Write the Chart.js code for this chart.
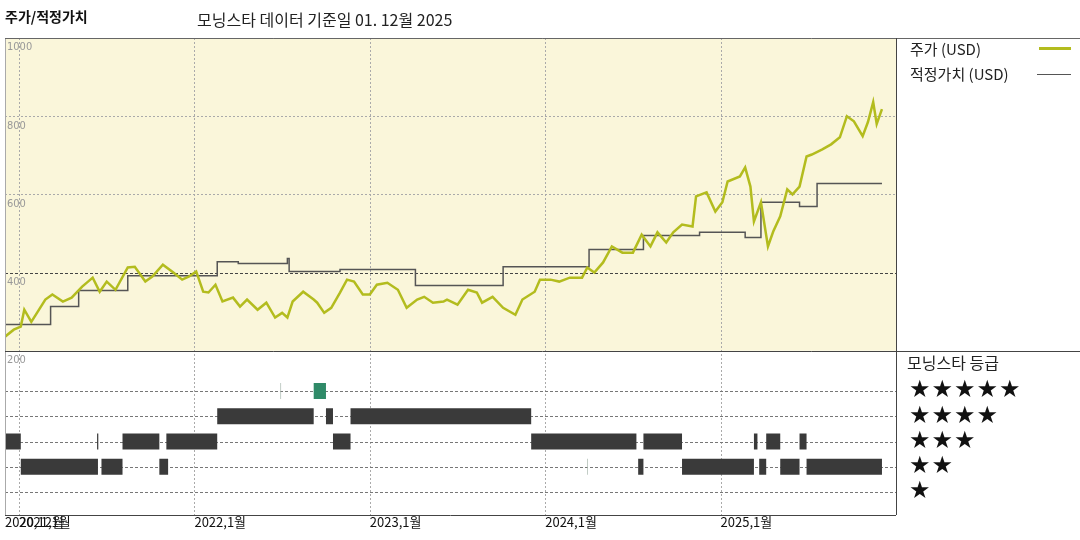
<!DOCTYPE html>
<html>
<head>
<meta charset="utf-8">
<script src="https://cdn.jsdelivr.net/npm/chart.js@4"></script>
<style>
  body { margin: 0; background: #fff; }
  #wrap { width: 1080px; height: 540px; position: relative; }
</style>
</head>
<body>
<div id="wrap"><canvas id="chart" width="1080" height="540"></canvas></div>
<script>
// price (USD), decimal year
var priceYears = [2020.92,2020.97,2021.01,2021.03,2021.07,2021.15,2021.19,2021.25,2021.30,2021.36,2021.42,2021.46,2021.50,2021.55,2021.62,2021.66,2021.72,2021.76,2021.82,2021.88,2021.93,2021.97,2022.01,2022.05,2022.08,2022.12,2022.16,2022.22,2022.26,2022.30,2022.36,2022.41,2022.46,2022.50,2022.53,2022.56,2022.62,2022.68,2022.70,2022.74,2022.78,2022.83,2022.87,2022.91,2022.96,2023.00,2023.04,2023.10,2023.16,2023.21,2023.27,2023.31,2023.36,2023.42,2023.44,2023.50,2023.56,2023.61,2023.64,2023.70,2023.76,2023.83,2023.87,2023.94,2023.97,2024.03,2024.08,2024.14,2024.21,2024.24,2024.28,2024.33,2024.38,2024.44,2024.50,2024.55,2024.60,2024.64,2024.69,2024.73,2024.78,2024.84,2024.86,2024.92,2024.97,2025.01,2025.04,2025.11,2025.14,2025.17,2025.19,2025.23,2025.27,2025.30,2025.34,2025.38,2025.41,2025.45,2025.49,2025.52,2025.58,2025.63,2025.68,2025.72,2025.76,2025.81,2025.84,2025.87,2025.89,2025.92];
var priceValues = [236,254,262,305,274,331,344,326,336,364,387,351,377,356,413,415,377,390,420,400,382,390,403,351,349,369,326,336,313,331,305,323,285,297,285,326,351,331,323,297,310,349,382,377,344,344,369,374,356,310,331,338,323,326,331,318,356,349,323,338,310,292,331,351,382,382,377,387,387,413,400,426,467,451,451,497,467,503,477,503,523,518,595,605,556,580,633,646,669,620,531,580,467,505,544,613,600,620,697,702,715,728,746,800,787,749,785,836,780,818];

// fair value steps (start year, value); last entry closes the line
var fairYears = [2020.92,2021.18,2021.34,2021.62,2022.13,2022.25,2022.53,2022.54,2022.83,2023.26,2023.76,2024.25,2024.56,2024.88,2025.14,2025.23,2025.45,2025.55,2025.79,2025.92];
var fairValues = [236,267,313,354,392,428,423,436,403,408,367,415,459,495,503,490,580,569,628,628];

// morningstar rating periods: [start, end, stars]
var ratingPeriods = [
  [2020.92,2021.01,3],[2021.01,2021.45,2],[2021.325,2021.33,3],[2021.445,2021.452,3],
  [2021.47,2021.59,2],[2021.59,2021.80,3],[2021.80,2021.85,2],[2021.84,2022.13,3],
  [2022.13,2022.68,4],[2022.68,2022.75,5],[2022.75,2022.79,4],[2022.79,2022.89,3],
  [2022.89,2023.92,4],[2023.92,2024.52,3],[2024.53,2024.56,2],[2024.56,2024.78,3],
  [2024.78,2025.19,2],[2025.19,2025.21,3],[2025.22,2025.26,2],[2025.26,2025.34,3],
  [2025.34,2025.45,2],[2025.45,2025.49,3],[2025.49,2025.92,2]
];
var thinMarks = [[2022.49,5],[2024.24,2]];

var xLabels = [[2020.92,"2020,12월"],[2021,"2021,1월"],[2022,"2022,1월"],[2023,"2023,1월"],[2024,"2024,1월"],[2025,"2025,1월"]];
var yTicks = [200,400,600,800,1000];
var starLevels = [5,4,3,2,1];

var FONT = "'Noto Sans CJK KR', 'Noto Sans', sans-serif";

function ratingData(stars) {
  var out = [];
  ratingPeriods.forEach(function (p) {
    if (p[2] !== stars) return;
    out.push({ x: p[0], y: stars }, { x: p[1], y: stars }, { x: p[1], y: null });
  });
  return out;
}
function thinData(stars) {
  var out = [];
  thinMarks.forEach(function (m) {
    if (m[1] !== stars) return;
    out.push({ x: m[0], y: stars }, { x: m[0] + 0.004, y: stars }, { x: m[0] + 0.004, y: null });
  });
  return out;
}

var datasets = [
  {
    label: "price",
    data: priceYears.map(function (x, i) { return { x: x, y: priceValues[i] }; }),
    borderColor: "#b3bc1e", borderWidth: 2.5, pointRadius: 0, tension: 0, yAxisID: "y"
  },
  {
    label: "fair",
    data: fairYears.map(function (x, i) { return { x: x, y: fairValues[i] }; }),
    borderColor: "#555", borderWidth: 1.5, pointRadius: 0, stepped: "after", yAxisID: "y"
  }
];
starLevels.forEach(function (s) {
  datasets.push({
    label: "r" + s, data: ratingData(s), yAxisID: "yr", spanGaps: false,
    borderColor: s === 5 ? "#2f8a68" : "#3a3a3a", borderWidth: 16,
    borderCapStyle: "butt", pointRadius: 0
  });
  datasets.push({
    label: "t" + s, data: thinData(s), yAxisID: "yr", spanGaps: false,
    borderColor: "#a9b8ae", borderWidth: 16, borderCapStyle: "butt", pointRadius: 0
  });
});

var backdrop = {
  id: "backdrop",
  beforeDatasetsDraw: function (chart) {
    var c = chart.ctx, a = chart.chartArea, x = chart.scales.x, y = chart.scales.y, yr = chart.scales.yr;
    var y200 = y.getPixelForValue(200);
    c.save();
    c.fillStyle = "#faf6da";
    c.fillRect(a.left, a.top, a.right - a.left, y200 - a.top);
    c.lineWidth = 1;
    // vertical grid
    c.strokeStyle = "#aaa"; c.setLineDash([2, 2]);
    xLabels.forEach(function (l) {
      var px = Math.round(x.getPixelForValue(l[0])) + 0.5;
      c.beginPath(); c.moveTo(px, a.top); c.lineTo(px, a.bottom); c.stroke();
    });
    // price grid
    [600, 800, 1000].forEach(function (v) {
      var py = Math.round(y.getPixelForValue(v)) + 0.5;
      c.beginPath(); c.moveTo(a.left, py); c.lineTo(a.right, py); c.stroke();
    });
    c.strokeStyle = "#444"; c.setLineDash([3, 2]);
    [400].forEach(function (v) {
      var py = Math.round(y.getPixelForValue(v)) + 0.5;
      c.beginPath(); c.moveTo(a.left, py); c.lineTo(a.right, py); c.stroke();
    });
    c.strokeStyle = "#777";
    starLevels.forEach(function (s) {
      var py = Math.round(yr.getPixelForValue(s)) + 0.5;
      c.beginPath(); c.moveTo(a.left, py); c.lineTo(a.right, py); c.stroke();
    });
    c.setLineDash([]);
    c.fillStyle = "#999"; c.font = "11px 'DejaVu Sans Condensed', sans-serif";
    c.textBaseline = "top"; c.textAlign = "left";
    yTicks.forEach(function (v) {
      c.fillText(String(v), a.left + 2, y.getPixelForValue(v) + 4);
    });
    c.restore();
  },
  afterDraw: function (chart) {
    var c = chart.ctx, a = chart.chartArea, x = chart.scales.x, y = chart.scales.y, yr = chart.scales.yr;
    var y200 = Math.round(y.getPixelForValue(200)) + 0.5;
    c.save();
    c.lineWidth = 1;
    c.strokeStyle = "#aaa";
    c.beginPath(); c.moveTo(a.left + 0.5, a.top); c.lineTo(a.left + 0.5, a.bottom); c.stroke();
    c.strokeStyle = "#666";
    c.beginPath(); c.moveTo(a.left, a.top + 0.5); c.lineTo(1080, a.top + 0.5); c.stroke();
    c.strokeStyle = "#444";
    c.beginPath(); c.moveTo(a.left, y200); c.lineTo(1080, y200); c.stroke();
    c.beginPath(); c.moveTo(a.left, a.bottom + 0.5); c.lineTo(a.right, a.bottom + 0.5); c.stroke();
    c.beginPath(); c.moveTo(a.right + 0.5, a.top); c.lineTo(a.right + 0.5, a.bottom); c.stroke();

    // x labels
    c.fillStyle = "#111"; c.font = "13px " + FONT; c.textBaseline = "top"; c.textAlign = "left";
    xLabels.forEach(function (l) { c.fillText(l[1], x.getPixelForValue(l[0]), a.bottom + 1); });

    // titles
    c.font = "bold 14px " + FONT; c.textBaseline = "middle";
    c.fillText("주가/적정가치", 5, 17);
    c.font = "16px " + FONT; c.fillStyle = "#222";
    c.fillText("모닝스타 데이터 기준일 01. 12월 2025", 197, 20);

    // legend
    c.font = "15px " + FONT; c.fillStyle = "#222";
    c.fillText("주가 (USD)", 910, 49);
    c.fillText("적정가치 (USD)", 910, 74);
    c.strokeStyle = "#b3bc1e"; c.lineWidth = 3;
    c.beginPath(); c.moveTo(1039, 48.5); c.lineTo(1071, 48.5); c.stroke();
    c.strokeStyle = "#555"; c.lineWidth = 1.2;
    c.beginPath(); c.moveTo(1037, 74.5); c.lineTo(1071, 74.5); c.stroke();

    c.font = "16px " + FONT; c.fillStyle = "#222";
    c.fillText("모닝스타 등급", 907, 363);
    c.font = "24px 'DejaVu Sans', sans-serif"; c.fillStyle = "#111";
    starLevels.forEach(function (s) {
      for (var i = 0; i < s; i++) c.fillText("★", 909 + i * 22.5, yr.getPixelForValue(s));
    });
    c.restore();
  }
};

new Chart(document.getElementById("chart"), {
  type: "line",
  data: { datasets: datasets },
  options: {
    responsive: false,
    animation: false,
    layout: { padding: { left: 5, right: 184, top: 38, bottom: 25 } },
    plugins: { legend: { display: false }, tooltip: { enabled: false } },
    scales: {
      x: { type: "linear", min: 2020.92, max: 2026.0, display: false },
      y: { min: -220, max: 1000, display: false },
      yr: { min: 0.09, max: 18.98, display: false }
    }
  },
  plugins: [backdrop]
});
</script>
</body>
</html>
